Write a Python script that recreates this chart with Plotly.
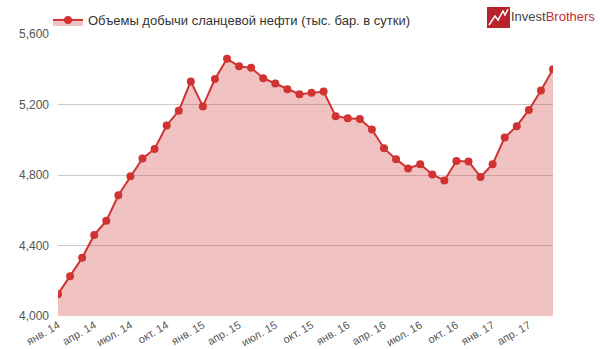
import plotly.graph_objects as go

months = ["янв", "фев", "мар", "апр", "май", "июн", "июл", "авг", "сен", "окт", "ноя", "дек"]
categories = [f"{m}. {y}" for y in ["14", "15", "16"] for m in months] + [f"{m}. 17" for m in months[:6]]

values = [4124, 4226, 4330, 4460, 4540, 4685, 4793, 4894, 4948, 5081, 5164, 5331,
          5189, 5345, 5459, 5417, 5408, 5349, 5319, 5287, 5258, 5266, 5274, 5134,
          5122, 5118, 5058, 4952, 4890, 4837, 4861, 4803, 4769, 4880, 4877, 4789,
          4861, 5013, 5077, 5169, 5279, 5400]

tick_labels = ["янв. 14", "апр. 14", "июл. 14", "окт. 14", "янв. 15", "апр. 15", "июл. 15",
               "окт. 15", "янв. 16", "апр. 16", "июл. 16", "окт. 16", "янв. 17", "апр. 17"]
y_ticks = [4000, 4400, 4800, 5200, 5600]
series_name = "Объемы добычи сланцевой нефти (тыс. бар. в сутки)"

W, H = 600, 349
ML, MR, MT, MB = 58, 47, 34, 33
PW, PH = W - ML - MR, H - MT - MB

def px(x):
    return (x - ML) / PW

def py(y):
    return (H - MB - y) / PH

LINE = "#D13333"

fig = go.Figure()
fig.add_trace(go.Scatter(
    x=categories, y=values, name=series_name,
    mode="lines+markers",
    line=dict(color=LINE, width=2),
    marker=dict(color=LINE, size=8),
    fill="tozeroy", fillcolor="rgba(205,52,52,0.3)",
))

# logo
shapes = [
    dict(type="rect", xref="paper", yref="paper",
         x0=px(487), x1=px(510), y0=py(28), y1=py(7),
         fillcolor="#B8232B", line=dict(width=0), layer="above"),
    dict(type="path", xref="paper", yref="paper",
         path=(f"M {px(489)},{py(25)} L {px(495)},{py(16)} L {px(498)},{py(20)} "
               f"L {px(503)},{py(11)} L {px(505)},{py(15)} L {px(508)},{py(9)}"),
         line=dict(color="white", width=1.5), layer="above"),
]

fig.update_layout(
    width=W, height=H,
    margin=dict(l=ML, r=MR, t=MT, b=MB, autoexpand=False),
    paper_bgcolor="white", plot_bgcolor="white",
    font=dict(family="Liberation Sans, Arial", color="#555", size=12),
    showlegend=True,
    legend=dict(x=px(48), y=py(20), xanchor="left", yanchor="middle",
                orientation="h", font=dict(size=13, color="#333"),
                bgcolor="rgba(0,0,0,0)"),
    xaxis=dict(type="category", range=[0, len(categories) - 1],
               tickmode="array", tickvals=tick_labels, ticktext=tick_labels,
               tickangle=-30, showgrid=False, zeroline=False, showline=False,
               tickfont=dict(size=11, color="#555"), ticks="", automargin=False),
    yaxis=dict(range=[4000, 5600], tickvals=y_ticks, tickformat=",",
               gridcolor="#CCCCCC", gridwidth=1, zeroline=False, showline=False,
               tickfont=dict(size=12, color="#555"), ticklabelstandoff=8,
               automargin=False),
    shapes=shapes,
    annotations=[dict(
        xref="paper", yref="paper", x=px(509), y=py(17),
        xanchor="left", yanchor="middle", showarrow=False,
        text="<span style='color:#444'>Invest</span><span style='color:#C0303A'>Brothers</span>",
        font=dict(size=13, family="Liberation Sans, Arial"),
    )],
)

fig.write_html("out.html")
